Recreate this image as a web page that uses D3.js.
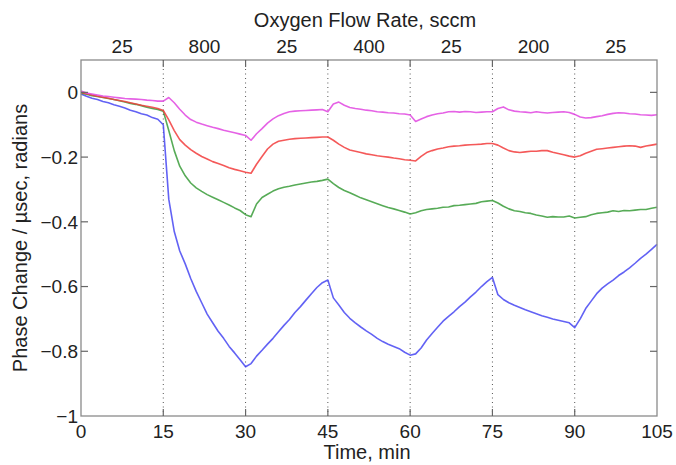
<!DOCTYPE html>
<html lang="en">
<head>
  <meta charset="UTF-8">
  <title>Phase change vs time</title>
  <style>
    body { margin: 0; background: #fff; }
    svg { font-family: "Liberation Sans", Arial, sans-serif; }
    .frame { fill: none; stroke: #8a8a8a; stroke-width: 1.3; }
    .grid { stroke: #555; stroke-width: 1; stroke-dasharray: 1,3.5; }
    .tick-mark { stroke: #666; stroke-width: 1.2; }
    .lbl { font-size: 19px; fill: #222; }
    .ttl { font-size: 20px; fill: #222; }
    .series { fill: none; stroke-width: 1.6; stroke-linejoin: round; opacity: 0.85; }
  </style>
</head>
<body>
  <script src="https://d3js.org/d3.v7.min.js"></script>
  <svg id="chart" width="676" height="465"></svg>
  <script>
    // time in minutes, one sample per minute
    const minutes = [0,1,2,3,4,5,6,7,8,9,10,11,12,13,14,15,16,17,18,19,20,21,22,23,24,25,26,27,28,29,30,
      31,32,33,34,35,36,37,38,39,40,41,42,43,44,45,46,47,48,49,50,51,52,53,54,55,56,57,58,59,60,
      61,62,63,64,65,66,67,68,69,70,71,72,73,74,75,76,77,78,79,80,81,82,83,84,85,86,87,88,89,90,
      91,92,93,94,95,96,97,98,99,100,101,102,103,104,105]

    const magentaSeries = [0.004,-0.002,-0.005,-0.008,-0.011,-0.013,-0.015,-0.017,-0.019,-0.020,-0.021,-0.022,-0.024,-0.025,-0.027,-0.027,
      -0.016,-0.032,-0.052,-0.070,-0.084,-0.092,-0.098,-0.103,-0.108,-0.112,-0.117,-0.121,-0.125,-0.129,-0.133,
      -0.148,-0.128,-0.112,-0.095,-0.082,-0.072,-0.065,-0.060,-0.058,-0.057,-0.056,-0.055,-0.054,-0.053,-0.060,
      -0.036,-0.030,-0.040,-0.047,-0.050,-0.052,-0.055,-0.057,-0.060,-0.061,-0.063,-0.064,-0.066,-0.067,-0.070,
      -0.090,-0.082,-0.075,-0.070,-0.066,-0.064,-0.060,-0.059,-0.061,-0.059,-0.060,-0.062,-0.061,-0.060,-0.060,
      -0.050,-0.045,-0.054,-0.058,-0.060,-0.061,-0.063,-0.060,-0.062,-0.064,-0.062,-0.061,-0.060,-0.062,-0.068,
      -0.076,-0.079,-0.078,-0.075,-0.072,-0.068,-0.065,-0.063,-0.064,-0.066,-0.067,-0.069,-0.070,-0.071,-0.069]

    const redSeries = [0.000,-0.004,-0.008,-0.012,-0.015,-0.018,-0.022,-0.025,-0.028,-0.032,-0.036,-0.040,-0.043,-0.046,-0.050,-0.056,
      -0.085,-0.118,-0.146,-0.163,-0.177,-0.188,-0.198,-0.206,-0.214,-0.220,-0.226,-0.233,-0.238,-0.242,-0.247,
      -0.250,-0.222,-0.198,-0.175,-0.160,-0.151,-0.148,-0.145,-0.143,-0.142,-0.141,-0.140,-0.139,-0.138,-0.138,
      -0.148,-0.160,-0.170,-0.178,-0.182,-0.186,-0.190,-0.193,-0.196,-0.198,-0.200,-0.203,-0.205,-0.208,-0.210,
      -0.212,-0.198,-0.186,-0.180,-0.175,-0.172,-0.168,-0.166,-0.165,-0.163,-0.162,-0.161,-0.160,-0.158,-0.158,
      -0.163,-0.172,-0.180,-0.184,-0.186,-0.184,-0.182,-0.182,-0.180,-0.180,-0.185,-0.189,-0.193,-0.197,-0.200,
      -0.196,-0.188,-0.182,-0.176,-0.174,-0.172,-0.170,-0.168,-0.166,-0.165,-0.166,-0.170,-0.166,-0.163,-0.160]

    const greenSeries = [-0.003,-0.006,-0.010,-0.013,-0.016,-0.019,-0.022,-0.026,-0.030,-0.034,-0.037,-0.041,-0.046,-0.050,-0.053,-0.058,
      -0.118,-0.180,-0.228,-0.258,-0.280,-0.295,-0.306,-0.316,-0.324,-0.332,-0.340,-0.348,-0.357,-0.365,-0.378,
      -0.384,-0.345,-0.325,-0.315,-0.305,-0.298,-0.293,-0.290,-0.286,-0.283,-0.280,-0.277,-0.275,-0.272,-0.268,
      -0.282,-0.294,-0.303,-0.310,-0.318,-0.326,-0.332,-0.338,-0.344,-0.350,-0.356,-0.360,-0.365,-0.370,-0.376,
      -0.372,-0.366,-0.362,-0.360,-0.358,-0.355,-0.354,-0.350,-0.349,-0.347,-0.345,-0.343,-0.338,-0.336,-0.334,
      -0.342,-0.352,-0.360,-0.366,-0.368,-0.372,-0.374,-0.379,-0.382,-0.386,-0.384,-0.385,-0.385,-0.382,-0.388,
      -0.386,-0.384,-0.378,-0.374,-0.372,-0.370,-0.366,-0.368,-0.365,-0.366,-0.364,-0.362,-0.362,-0.358,-0.355]

    const blueSeries = [-0.005,-0.012,-0.018,-0.022,-0.028,-0.032,-0.038,-0.043,-0.048,-0.055,-0.060,-0.066,-0.070,-0.078,-0.083,-0.100,
      -0.330,-0.430,-0.490,-0.530,-0.575,-0.615,-0.650,-0.685,-0.712,-0.738,-0.760,-0.785,-0.805,-0.826,-0.848,
      -0.838,-0.815,-0.797,-0.778,-0.760,-0.740,-0.720,-0.702,-0.680,-0.662,-0.642,-0.622,-0.603,-0.588,-0.580,
      -0.635,-0.657,-0.680,-0.698,-0.712,-0.725,-0.737,-0.748,-0.760,-0.770,-0.778,-0.785,-0.792,-0.803,-0.812,
      -0.808,-0.790,-0.765,-0.745,-0.726,-0.707,-0.692,-0.678,-0.662,-0.648,-0.632,-0.617,-0.600,-0.585,-0.572,
      -0.625,-0.640,-0.650,-0.658,-0.665,-0.672,-0.678,-0.684,-0.690,-0.695,-0.700,-0.704,-0.708,-0.712,-0.727,
      -0.700,-0.668,-0.645,-0.622,-0.605,-0.592,-0.580,-0.566,-0.555,-0.542,-0.528,-0.513,-0.500,-0.485,-0.470]

    const xTicks = [0, 15, 30, 45, 60, 75, 90, 105]
    const stepEdges = [15, 30, 45, 60, 75, 90]
    const yTicks = [0, -0.2, -0.4, -0.6, -0.8, -1]
    const flowMid = [7.5, 22.5, 37.5, 52.5, 67.5, 82.5, 97.5]
    const flowRates = ['25', '800', '25', '400', '25', '200', '25']

    const series = [
      { name: 'blue', color: '#4646f2', values: blueSeries },
      { name: 'green', color: '#3a9c3a', values: greenSeries },
      { name: 'red', color: '#f23c3c', values: redSeries },
      { name: 'magenta', color: '#e046e0', values: magentaSeries }
    ]

    let plotLeft = 81, plotRight = 657, plotTop = 60, plotBottom = 416
    let x = d3.scaleLinear().domain([0, 105]).range([plotLeft, plotRight])
    let y = d3.scaleLinear().domain([-1, 0.1]).range([plotBottom, plotTop])
    let svg = d3.select('#chart')

    // dotted lines where the flow rate changes
    svg.selectAll('.grid')
      .data(stepEdges)
      .enter()
      .append('line')
      .attr('class', 'grid')
      .attr('x1', d => x(d)).attr('x2', d => x(d))
      .attr('y1', plotTop).attr('y2', plotBottom)

    let line = d3.line()
      .x((d, i) => x(minutes[i]))
      .y(d => y(d))

    svg.selectAll('.series')
      .data(series)
      .enter()
      .append('path')
      .attr('class', 'series')
      .attr('stroke', d => d.color)
      .attr('d', d => line(d.values))

    svg.append('rect')
      .attr('class', 'frame')
      .attr('x', plotLeft).attr('y', plotTop)
      .attr('width', plotRight - plotLeft).attr('height', plotBottom - plotTop)

    // inward ticks, matlab style, on all four sides
    let tl = 7
    xTicks.slice(1, -1).forEach(t => {
      svg.append('line').attr('class', 'tick-mark')
        .attr('x1', x(t)).attr('x2', x(t)).attr('y1', plotBottom).attr('y2', plotBottom - tl)
      svg.append('line').attr('class', 'tick-mark')
        .attr('x1', x(t)).attr('x2', x(t)).attr('y1', plotTop).attr('y2', plotTop + tl)
    })
    yTicks.slice(0, -1).forEach(v => {
      svg.append('line').attr('class', 'tick-mark')
        .attr('x1', plotLeft).attr('x2', plotLeft + tl).attr('y1', y(v)).attr('y2', y(v))
      svg.append('line').attr('class', 'tick-mark')
        .attr('x1', plotRight).attr('x2', plotRight - tl).attr('y1', y(v)).attr('y2', y(v))
    })

    svg.selectAll('.xlab')
      .data(xTicks)
      .enter()
      .append('text')
      .attr('class', 'lbl')
      .attr('text-anchor', 'middle')
      .attr('x', d => x(d))
      .attr('y', 438)
      .text(d => d)

    svg.selectAll('.ylab')
      .data(yTicks)
      .enter()
      .append('text')
      .attr('class', 'lbl')
      .attr('text-anchor', 'end')
      .attr('x', plotLeft - 3)
      .attr('y', d => y(d))
      .attr('dy', '0.36em')
      .text(d => d === 0 ? '0' : '\u2212' + String(-d))

    svg.selectAll('.flow')
      .data(flowMid)
      .enter()
      .append('text')
      .attr('class', 'lbl')
      .attr('text-anchor', 'middle')
      .attr('x', d => x(d))
      .attr('y', 53)
      .text((d, i) => flowRates[i])

    svg.append('text')
      .attr('class', 'ttl')
      .attr('text-anchor', 'middle')
      .attr('x', (plotLeft + plotRight) / 2 - 4)
      .attr('y', 27)
      .text('Oxygen Flow Rate, sccm')

    svg.append('text')
      .attr('class', 'ttl')
      .attr('text-anchor', 'middle')
      .attr('x', (plotLeft + plotRight) / 2 - 2)
      .attr('y', 459)
      .text('Time, min')

    svg.append('text')
      .attr('class', 'ttl')
      .attr('text-anchor', 'middle')
      .attr('transform', 'translate(27,' + ((plotTop + plotBottom) / 2) + ') rotate(-90)')
      .text('Phase Change / \u00b5sec, radians')
  </script>
</body>
</html>
